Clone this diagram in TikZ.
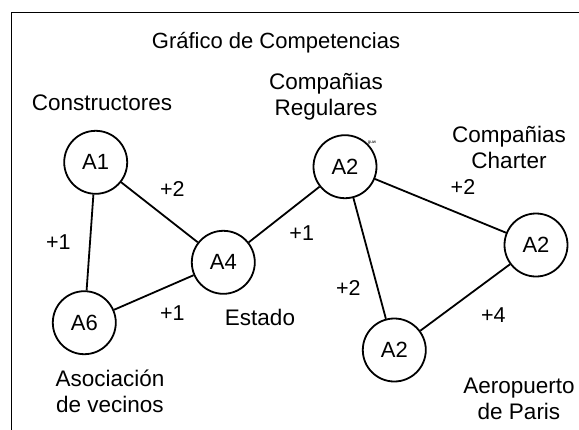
\documentclass[tikz,border=0pt]{standalone}
\usepackage{fontspec}
\setmainfont{Liberation Sans}
\begin{document}
\begin{tikzpicture}[x=1pt,y=-1pt,
  agent/.style={circle,draw,line width=1.8pt,minimum size=63pt,inner sep=0pt,font=\fontsize{22}{24}\selectfont},
  lbl/.style={font=\fontsize{22.5}{26}\selectfont,align=center,inner sep=0pt},
  wt/.style={font=\fontsize{21.5}{24}\selectfont,inner sep=0pt},
  edge/.style={line width=1.8pt}]
\useasboundingbox (0,0) rectangle (579,429);
\draw[line width=1.8pt] (11.5,440) coordinate (fbl) -- (11.5,12.5) coordinate (ftl) -- (600,12.5) coordinate (ftr);
\node[lbl,font=\fontsize{22}{24}\selectfont] (title) at (276,43) {Gráfico de Competencias};
\node[lbl] (cons) at (102,103) {Constructores};
\node[lbl] (creg) at (326,97) {Compañias\\Regulares};
\node[lbl] (cchar) at (509,147) {Compañias\\Charter};
\node[lbl] (est) at (260,317) {Estado};
\node[lbl] (asoc) at (110,391) {Asociación\\de vecinos};
\node[lbl] (aero) at (519,399) {Aeropuerto\\de Paris};
\node[agent] (a1) at (95.7,162.3) {A1};
\node[agent] (a6) at (84.3,322.7) {A6};
\node[agent] (a4) at (223.3,262.3) {A4};
\node[agent] (a2t) at (345,166.7) {A2};
\node[agent] (a2r) at (536,245) {A2};
\node[agent] (a2b) at (394.3,350) {A2};
\node[font=\fontsize{4.5}{5}\selectfont,inner sep=0pt] (guw) at (372,143) {guw};
\draw[edge] (a1) -- (a6);
\draw[edge] (a1) -- (a4);
\draw[edge] (a6) -- (a4);
\draw[edge] (a4) -- (a2t);
\draw[edge] (a2t) -- (a2r);
\draw[edge] (a2t) -- (a2b);
\draw[edge] (a2b) -- (a2r);
\node[wt] (w1) at (58.3,241.7) {+1};
\node[wt] (w2) at (172.3,189.3) {+2};
\node[wt] (w3) at (172.3,312.7) {+1};
\node[wt] (w4) at (301.7,233.3) {+1};
\node[wt] (w5) at (463,187) {+2};
\node[wt] (w6) at (348.3,288.3) {+2};
\node[wt] (w7) at (493.3,315) {+4};
\end{tikzpicture}
\end{document}
